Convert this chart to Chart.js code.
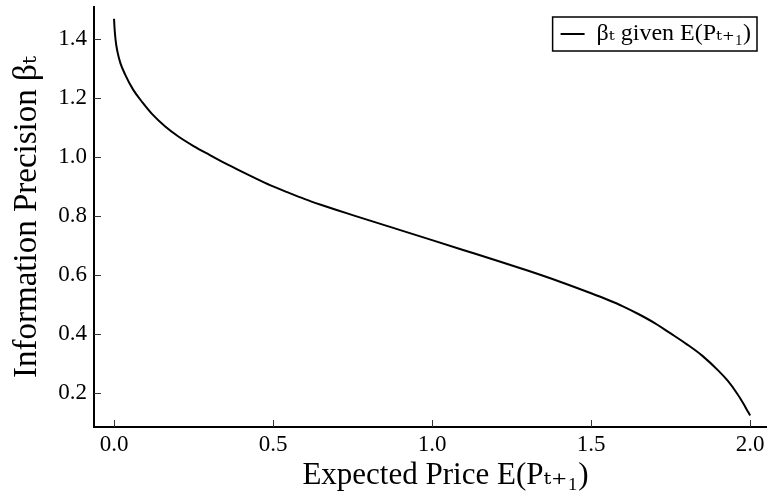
<!DOCTYPE html>
<html>
<head>
<meta charset="utf-8">
<script src="https://cdn.jsdelivr.net/npm/chart.js@4/dist/chart.umd.min.js"></script>
<style>
  html, body { margin: 0; padding: 0; background: #fff; }
  #wrap { width: 767px; height: 495px; position: relative; }
</style>
</head>
<body>
<div id="wrap"><canvas id="c"></canvas></div>
<script>
// ---- data ----
const expectedPrice = [0, 0.002, 0.005, 0.01, 0.02, 0.035, 0.06, 0.09, 0.12, 0.16, 0.2, 0.25, 0.3, 0.35, 0.4, 0.45, 0.5, 0.55, 0.6, 0.65, 0.7, 0.75, 0.8, 0.85, 0.9, 0.95, 1.0, 1.1, 1.2, 1.3, 1.4, 1.5, 1.55, 1.6, 1.65, 1.7, 1.75, 1.8, 1.85, 1.9, 1.93, 1.96, 1.97, 1.98, 1.99, 1.997, 2.0];
const betaValues    = [1.468, 1.43, 1.395, 1.36, 1.318, 1.279, 1.228, 1.184, 1.145, 1.104, 1.071, 1.037, 1.007, 0.978, 0.951, 0.925, 0.900, 0.878, 0.857, 0.838, 0.820, 0.803, 0.786, 0.769, 0.752, 0.735, 0.718, 0.684, 0.650, 0.615, 0.578, 0.538, 0.517, 0.494, 0.467, 0.437, 0.402, 0.366, 0.326, 0.276, 0.241, 0.197, 0.180, 0.162, 0.143, 0.130, 0.124];
const xTicks = [0.0, 0.5, 1.0, 1.5, 2.0];
const yTicks = [0.2, 0.4, 0.6, 0.8, 1.0, 1.2, 1.4];
const seriesLabel = 'βₜ given E(Pₜ₊₁)';
const xTitle = 'Expected Price E(Pₜ₊₁)';
const yTitle = 'Information Precision βₜ';

const serif = '"Liberation Serif", "DejaVu Serif", serif';

const decor = {
  id: 'decor',
  afterLayout(chart) {
    // x title sits a little right of the plot centre in the reference
    const s = chart.scales.x;
    if (!s.__shifted) {
      s.__shifted = true;
      s.drawTitle = function () {
        const l = this.left, r = this.right;
        this.left += 15; this.right += 15;
        Chart.Scale.prototype.drawTitle.call(this);
        this.left = l; this.right = r;
      };
    }
    // place legend at top-right inside the plot
    const lg = chart.legend, ca = chart.chartArea;
    const hb = lg && lg.legendHitBoxes && lg.legendHitBoxes[0];
    if (hb) {
      const pad = lg.options.labels.padding;
      const frameRight = ca.right - 10;
      const frameTop = ca.top + 10;
      const frameH = 34;
      const itemLeft = frameRight - 6 - hb.width;
      lg.left = itemLeft - pad;
      lg.right = lg.left + lg.width;
      lg.top = frameTop + frameH / 2 - hb.height / 2 - pad;
      lg.bottom = lg.top + lg.height;
      chart.$frame = {x: itemLeft - 8, y: frameTop, w: frameRight - (itemLeft - 8), h: frameH};
    }
  },
  afterDraw(chart) {
    const {ctx} = chart;
    const x = chart.scales.x, y = chart.scales.y;
    ctx.save();
    ctx.strokeStyle = '#333';
    ctx.lineWidth = 1;
    ctx.beginPath();
    x.ticks.forEach(t => {
      const px = Math.round(x.getPixelForValue(t.value)) + 0.5;
      ctx.moveTo(px, y.bottom);
      ctx.lineTo(px, y.bottom - 7);
    });
    y.ticks.forEach(t => {
      const py = Math.round(y.getPixelForValue(t.value)) + 0.5;
      ctx.moveTo(x.left, py);
      ctx.lineTo(x.left + 7, py);
    });
    ctx.stroke();
    const f = chart.$frame;
    if (f) {
      ctx.strokeStyle = '#000';
      ctx.lineWidth = 1.5;
      ctx.strokeRect(f.x, f.y, f.w, f.h);
    }
    ctx.restore();
  }
};

new Chart(document.getElementById('c'), {
  type: 'line',
  data: {
    datasets: [{
      label: seriesLabel,
      data: expectedPrice.map((v, i) => ({x: v, y: betaValues[i]})),
      borderColor: '#000',
      backgroundColor: '#000',
      borderWidth: 2,
      pointRadius: 0,
      pointStyle: 'line',
      cubicInterpolationMode: 'monotone',
      fill: false
    }]
  },
  options: {
    responsive: true,
    maintainAspectRatio: false,
    animation: false,
    layout: { padding: { top: 7, right: 0, left: 0, bottom: 0 } },
    scales: {
      x: {
        type: 'linear',
        min: -0.063,
        max: 2.053,
        grid: { display: false, drawTicks: false },
        border: { display: true, color: '#000', width: 2 },
        afterBuildTicks: s => { s.ticks = xTicks.map(v => ({value: v})); },
        afterFit: s => { s.height = 68; s.paddingLeft = 0; s.paddingRight = 0; },
        ticks: {
          color: '#000',
          padding: 4,
          font: { family: serif, size: 23 },
          callback: v => Number(v).toFixed(1)
        },
        title: {
          display: true,
          text: xTitle,
          color: '#000',
          font: { family: serif, size: 31, lineHeight: 1 },
          padding: { top: 0, bottom: 4 }
        }
      },
      y: {
        type: 'linear',
        min: 0.085,
        max: 1.508,
        grid: { display: false, drawTicks: false },
        border: { display: true, color: '#000', width: 2 },
        afterBuildTicks: s => { s.ticks = yTicks.map(v => ({value: v})); },
        afterFit: s => { s.width = 94; s.paddingTop = 0; s.paddingBottom = 0; },
        ticks: {
          color: '#000',
          padding: 7,
          font: { family: serif, size: 23 },
          callback: v => Number(v).toFixed(1)
        },
        title: {
          display: true,
          text: yTitle,
          color: '#000',
          font: { family: serif, size: 33, lineHeight: 1 },
          padding: { top: 11, bottom: 0 }
        }
      }
    },
    plugins: {
      legend: {
        position: 'chartArea',
        align: 'start',
        labels: {
          color: '#000',
          usePointStyle: true,
          pointStyle: 'line',
          pointStyleWidth: 24,
          padding: 10,
          font: { family: serif, size: 24 }
        }
      },
      tooltip: { enabled: false }
    }
  },
  plugins: [decor]
});
</script>
</body>
</html>
